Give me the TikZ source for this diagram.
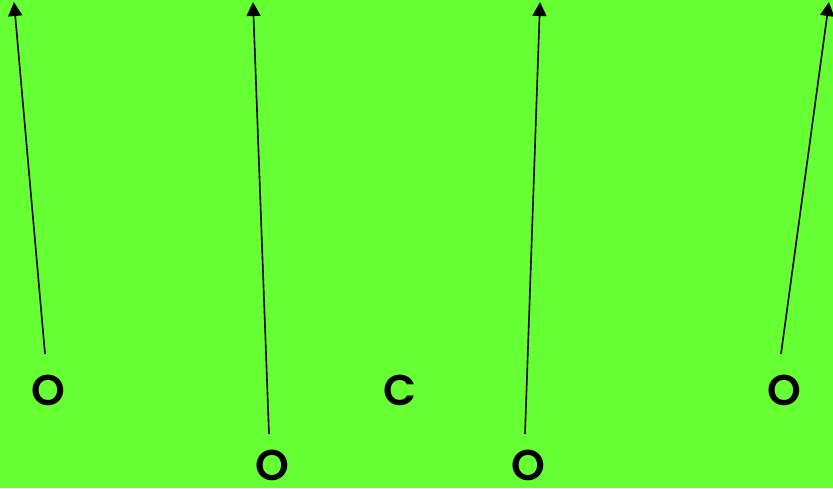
\documentclass[tikz,border=0pt]{standalone}
\usepackage{fontspec}
\newfontfamily\letterfont{Poppins}[BoldFont={Poppins SemiBold}]
\usetikzlibrary{arrows.meta}
\definecolor{bg}{HTML}{66FF33}
\begin{document}
\begin{tikzpicture}[x=1pt,y=-1pt,
  letter/.style={inner sep=0pt,text depth=0pt,font=\letterfont\bfseries\fontsize{43}{43}\selectfont},
  arr/.style={line width=1.6pt,-{Triangle[length=14pt,width=14pt]}}]
\fill[bg] (0,0) rectangle (833,488);
\useasboundingbox (0,0) rectangle (833,488);
\node[letter] (o1) at (48,390) {O};
\node[letter] (o2) at (272,465) {O};
\node[letter] (c) at (400,390) {C};
\node[letter] (o3) at (528,465) {O};
\node[letter] (o4) at (784,390) {O};
\coordinate (s1) at (45,354);
\coordinate (s2) at (269,434);
\coordinate (s3) at (525,434);
\coordinate (s4) at (781,354);
\coordinate (t1) at (14,2);
\coordinate (t2) at (253,2);
\coordinate (t3) at (540,2);
\coordinate (t4) at (829,2);
\draw[arr] (s1) -- (t1);
\draw[arr] (s2) -- (t2);
\draw[arr] (s3) -- (t3);
\draw[arr] (s4) -- (t4);
\end{tikzpicture}
\end{document}
